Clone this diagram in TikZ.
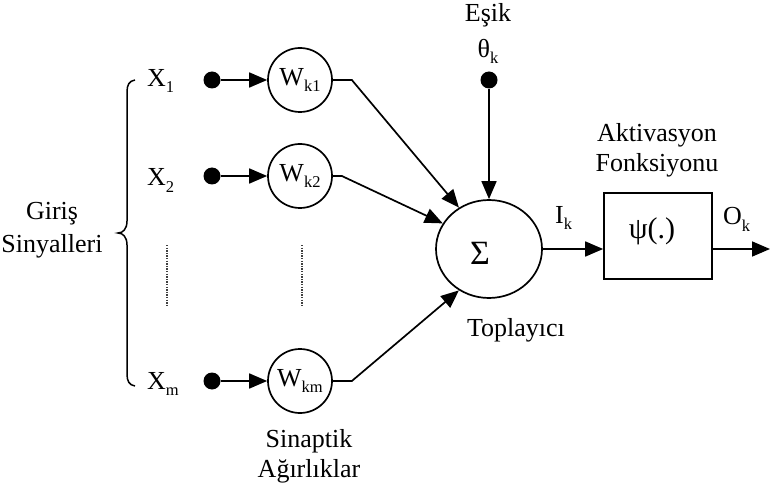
\documentclass[tikz,border=0pt]{standalone}
\usepackage{fontspec}
\setmainfont{Liberation Serif}
\usetikzlibrary{arrows.meta,shapes.geometric}
\newcommand{\sbs}[1]{\raisebox{-6pt}{\fontsize{16.5}{16.5}\selectfont #1}}
\tikzset{
  txt/.style={inner sep=0pt, anchor=base, font=\fontsize{26}{30}\selectfont},
  wnode/.style={circle, draw, line width=1.7pt, minimum size=64pt, inner sep=0pt, font=\fontsize{26}{30}\selectfont},
  dotnode/.style={circle, fill=black, minimum size=17pt, inner sep=0pt},
  conn/.style={line width=1.7pt, -{Triangle[length=18pt,width=15pt]}},
  dotline/.style={line width=1.5pt, dash pattern=on 1.3pt off 1.3pt, black!75}
}
\begin{document}
\begin{tikzpicture}[x=1pt,y=-1pt]
\useasboundingbox (0,0) rectangle (770,486);
% inputs
\node[txt, anchor=base west] (x1) at (147,87) {X\sbs{1}};
\node[txt, anchor=base west] (x2) at (147,186) {X\sbs{2}};
\node[txt, anchor=base west] (xm) at (147,389) {X\sbs{m}};
\node[dotnode] (d1) at (212,80) {};
\node[dotnode] (d2) at (212,176) {};
\node[dotnode] (dm) at (212,381) {};
\node[wnode] (w1) at (300,80) {W\sbs{k1}};
\node[wnode] (w2) at (300,176) {W\sbs{k2}};
\node[wnode] (wm) at (300,381) {W\sbs{km}};
% summing junction
\node[ellipse, draw, line width=1.7pt, minimum width=106pt, minimum height=98pt, inner sep=0pt] (sig) at (489,249) {};
\node[txt, font=\fontsize{34}{34}\selectfont] (sigt) at (480,264) {Σ};
% threshold
\node[txt] (esik) at (488,22) {Eşik};
\node[txt] (theta) at (488,58) {θ\sbs{k}};
\node[dotnode] (dt) at (489,80) {};
% activation
\node[draw, line width=1.7pt, minimum width=108pt, minimum height=86pt, inner sep=0pt] (box) at (658,236) {};
\node[txt, font=\fontsize{30}{30}\selectfont] (psi) at (652,238) {ψ(.)};
\node[txt] (akt) at (657,142) {Aktivasyon};
\node[txt] (fon) at (657,172) {Fonksiyonu};
\node[txt, anchor=base west] (ik) at (555,223) {I\sbs{k}};
\node[txt, anchor=base west] (ok) at (723,225) {O\sbs{k}};
\coordinate (out) at (770,249);
% other labels
\node[txt] (top) at (516,336) {Toplayıcı};
\node[txt] (gir) at (52,220) {Giriş};
\node[txt] (sin) at (52,252) {Sinyalleri};
\node[txt] (snp) at (309,447) {Sinaptik};
\node[txt] (agr) at (309,477) {Ağırlıklar};
% connectors
\draw[conn] (d1) -- (w1);
\draw[conn] (d2) -- (w2);
\draw[conn] (dm) -- (wm);
\draw[conn] (w1.east) -- ++(19,0) -- (sig.126);
\draw[conn] (w2.east) -- ++(9,0) -- (sig.151);
\draw[conn] (wm.east) -- ++(19,0) -- (sig.234);
\draw[conn] (dt) -- (sig.north);
\draw[conn] (sig.east) -- (box.west |- sig.east);
\draw[conn] (box.east |- sig.east) -- (out);
% dotted continuation
\draw[dotline] (167,245) -- (167,306);
\draw[dotline] (302,245) -- (302,306);
% brace
\draw[line width=1.5pt] (135,80) .. controls (129,81) and (127,85) .. (127,92) -- (127,221)
  .. controls (127,229) and (123,233) .. (118,233)
  .. controls (123,233) and (127,237) .. (127,245) -- (127,374)
  .. controls (127,381) and (129,385) .. (135,386);
\end{tikzpicture}
\end{document}
